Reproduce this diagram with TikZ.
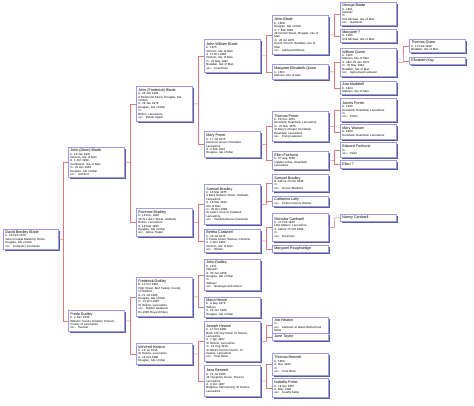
\documentclass[tikz,border=0pt]{standalone}
\usepackage{fontspec}
\setmainfont{Liberation Sans}
\usetikzlibrary{shadows,calc}
\definecolor{boxline}{HTML}{9C9CE8}
\definecolor{boxshadow}{HTML}{5C5C94}
\definecolor{connline}{HTML}{E07878}
\newcommand\namefont{\fontsize{3.7}{4.3}\selectfont}
\newcommand\detfont{\fontsize{2.9}{3.4}\selectfont}
\newcommand\nm[1]{{\namefont #1\par}}
\tikzset{
  pbox/.style={draw=boxline, line width=0.7pt, fill=white, anchor=north west,
    inner xsep=2pt, inner ysep=1.3pt, align=left, font=\detfont,
    drop shadow={shadow xshift=1.4pt, shadow yshift=-1.4pt, fill=boxshadow, opacity=1}},
  conn/.style={draw=connline, line width=0.5pt},
}
% \person{id}{x}{y}{width}{height}{content}
\newcommand\person[6]{\node[pbox, text width=#4pt-4.7pt, minimum height=#5pt] (#1) at (#2pt,-#3pt) {#6};}
% \parents{child}{father}{mother}
\newcommand\parents[3]{%
  \coordinate (j#1) at ($(#1.east)!0.5!(#1.east -| #2.west)$);
  \draw[conn] (#1.east) -- (j#1);
  \draw[conn] (#2.west) -| (j#1) |- (#3.west);}
\begin{document}
\begin{tikzpicture}[x=1pt,y=1pt]
\useasboundingbox (0,0) rectangle (474,-406);
\fill[white] (0,0) rectangle (474,-406);
% column 1
\person{D}{3}{229}{56}{20}{\nm{David Bradley Blade}b. 25 Feb 1976\\Jane Crookall Maternity Home,\\Douglas, Isle of Man\\occ. \ Computer Contractor}
% column 2
\person{JD}{68}{147}{57}{30}{\nm{John (Dean) Blade}b. 18 Jan 1937\\Onchan, Isle of Man\\d. 1 Oct 1999\\Cumbrians, Isle of Man\\m. 25 Apr 1963\\Douglas, Isle of Man\\occ. \ Architect}
\person{FD}{68}{310}{57}{21}{\nm{Freda Dudley}b. 2 Dec 1940\\Whiston County Hospital, Prescot,\\County of Lancashire\\occ. \ Teacher}
% column 3
\person{JF}{136}{86}{57}{35}{\nm{John (Frederick) Blade}b. 28 Jan 1902\\8 Richmond Street, Douglas, Isle\\of Man\\d. 28 Jan 1978\\Douglas, Isle of Man\\m.\\Bolton, Lancashire\\occ. \ Estate Agent}
\person{FB}{136}{208}{57}{28}{\nm{Florence Bradley}b. 18 Dec 1902\\18 St Luke's Street, Halliwell,\\Bolton, Lancashire\\d. 18 Mar 1983\\Douglas, Isle of Man\\occ. \ Glove Trader}
\person{FrD}{136}{277}{57}{39}{\nm{Frederick Dudley}b. 12 Oct 1910\\High Street, Burt Tallesy, County\\of Stafford\\d. 21 Jul 1980\\Douglas, Isle of Man\\m. 12 Oct 1935\\St Helens, Lancashire\\occ. \ Market Gardener\\Ex-1000 Royal Artillery}
\person{WH}{136}{343}{57}{21}{\nm{Winifred Heaton}b. 10 Jul 1915\\St Helens, Lancashire\\d. 28 Oct 1980\\Douglas, Isle of Man}
% column 4
\person{JWB}{204}{39}{57}{33}{\nm{John William Blade}b. 1876\\Onchan, Isle of Man\\d. 11 Oct 1950\\Onchan, Isle of Man\\m. 22 May 1897\\Braddan, Isle of Man\\occ. \ Coachman}
\person{MP}{204}{131}{57}{26}{\nm{Mary Porter}b. 17 Jul 1875\\Harcroos Grove, Dunsfield,\\Lancashire\\d. 4 Feb 1918\\Douglas, Isle of Man}
\person{SB}{204}{184}{57}{40}{\nm{Samuel Bradley}b. 16 Mar 1875\\3 Back Bowens Street, Halliwell,\\Lancashire\\d. 18 Mar 1944\\Isle of Man\\m. 25 Oct 1898\\St Luke's Church, Halliwell,\\Lancashire\\occ. \ Textile/Labourer (General)}
\person{BC}{204}{229}{57}{23}{\nm{Bertha Cardwell}b. 22 Jul 1875\\2 Castle Street, Bestow, Cheshire\\d. 3 Nov 1960\\Onchan, Isle of Man\\occ. \ Winder}
\person{JDu}{204}{259}{57}{31}{\nm{John Dudley}b. 1871\\Oberod?\\d. 30 Jun 1958\\Douglas, Isle of Man\\m.\\Widow?\\occ. \ Greengrocer/Fruiterer}
\person{MH}{204}{297}{57}{20}{\nm{Maria Hewitt}b. 9 Sep 1876\\Widnes\\d. 20 Jun 1968\\Douglas, Isle of Man}
\person{JH}{204}{321}{57}{40}{\nm{Joseph Heaton}b. 17 Oct 1889\\Back 170 City Road, St Helens,\\Lancashire\\d. 7 Apr 1957\\St Helens, Lancashire\\m. 13 Aug 1910\\St Mark's Parish Church, St\\Helens, Lancashire\\occ. \ Coal Miner}
\person{JB}{204}{365}{57}{31}{\nm{Jane Bennett}b. 21 Jul 1890\\24 Houghton Grove, Prescot,\\Lancashire\\d. 9 Oct 1967\\Belgrave Hall Nursing, St Helens,\\Lancashire}
% column 5
\person{JBl}{272}{15}{57}{39}{\nm{John Blade}b. 1850\\Douglas, Isle of Man\\d. 7 Feb 1908\\28 Parnell Street, Douglas, Isle of\\Man\\m. 28 Jul 1870\\Parish Church, Braddan, Isle of\\Man\\occ. \ Labourer/Millman}
\person{MEQ}{272}{64}{57}{15}{\nm{Margaret Elizabeth Quine}b. 1853\\Marown, Isle of Man}
\person{TP}{272}{111}{57}{30}{\nm{Thomas Porter}b. 20 Nov 1851\\Dunsfield, Deanfield, Lancashire\\m. 22 Nov 1876\\St Mary's Chapel, Dunsfield,\\Deanfield, Lancashire\\occ. \ Pump Labourer}
\person{EF}{272}{151}{57}{18}{\nm{Ellen Fairhurst}b. 27 Aug 1856\\Ingleby Grove, Deanfield,\\Lancashire}
\person{SBf}{272}{174}{57}{17}{\nm{Samuel Bradley}d. before 15 Oct 1898\\m.\\occ. \ Grocer Mattress}
\person{CL}{272}{196}{57}{10}{\nm{Catherine Lally}occ. \ Cotton Factory Worker}
\person{NC}{272}{213}{57}{28}{\nm{Nicholas Cardwell}b. 27 Feb 1843\\Little Marton, Lancashire\\d. before 15 Oct 1898\\m.\\occ. \ Drainman}
\person{MR}{272}{245}{57}{7}{\nm{Margaret Roughsedge}}
\person{JobH}{272}{317}{57}{13}{\nm{Job Heaton}m.\\occ. \ Labourer at Glass Works/Coal\\Miner}
\person{JT}{272}{333}{57}{7}{\nm{Jane Taylor}}
\person{TB}{272}{353}{57}{22}{\nm{Thomas Bennett}b. 1858\\d. Dec 1925\\m.\\occ. \ Coal Miner}
\person{IP}{272}{378}{57}{19}{\nm{Isabella Potter}b. 18 Apr 1857\\d. May 1926\\occ. \ Coalfly Seller}
% column 6
\person{GB}{340}{2}{57}{23}{\nm{George Blade}b. 1821\\Ireland?\\m.\\Kirk Michael, Isle of Man\\occ. \ Gardener}
\person{MQ}{340}{29}{57}{13}{\nm{Margaret ?}b. 1826\\Kirk Michael, Isle of Man}
\person{WQ}{340}{48}{57}{28}{\nm{William Quine}b. 1826\\Marown, Isle of Man\\d. after 28 Jan 1872\\m. 20 May 1844\\Braddan, Isle of Man\\occ. \ Agricultural Labourer}
\person{AM}{340}{81}{57}{13}{\nm{Ann Maddrell}b. 1824\\Marown, Isle of Man}
\person{JP}{340}{98}{57}{23}{\nm{James Porter}b. 1829\\Dunsfield, Deanfield, Lancashire\\m.\\occ. \ Potter}
\person{MW}{340}{124}{57}{15}{\nm{Mary Wanam}b. 1829\\Dunsfield, Deanfield, Lancashire}
\person{EdF}{340}{142}{57}{15}{\nm{Edward Fairhurst}m.\\occ. \ Tailor}
\person{EQ}{340}{160}{57}{8}{\nm{Ellen ?}}
\person{NaC}{340}{214}{57}{7}{\nm{Nanny Cardwell}}
% column 7
\person{TQ}{409}{39}{57}{13}{\nm{Thomas Quine}b. 13 Feb 1818\\Braddan, Isle of Man}
\person{EK}{409}{57}{57}{7}{\nm{Elizabeth Kay}}
% connectors
\parents{D}{JD}{FD}
\parents{JD}{JF}{FB}
\parents{FD}{FrD}{WH}
\parents{JF}{JWB}{MP}
\parents{FB}{SB}{BC}
\parents{FrD}{JDu}{MH}
\parents{WH}{JH}{JB}
\parents{JWB}{JBl}{MEQ}
\parents{MP}{TP}{EF}
\parents{SB}{SBf}{CL}
\parents{BC}{NC}{MR}
\parents{JH}{JobH}{JT}
\parents{JB}{TB}{IP}
\parents{JBl}{GB}{MQ}
\parents{MEQ}{WQ}{AM}
\parents{TP}{JP}{MW}
\parents{EF}{EdF}{EQ}
\parents{WQ}{TQ}{EK}
\coordinate (jNC) at ($(NC.east)!0.5!(NC.east -| NaC.west)$);
\draw[conn] (NC.east) -- (jNC) |- (NaC.west);
\end{tikzpicture}
\end{document}
